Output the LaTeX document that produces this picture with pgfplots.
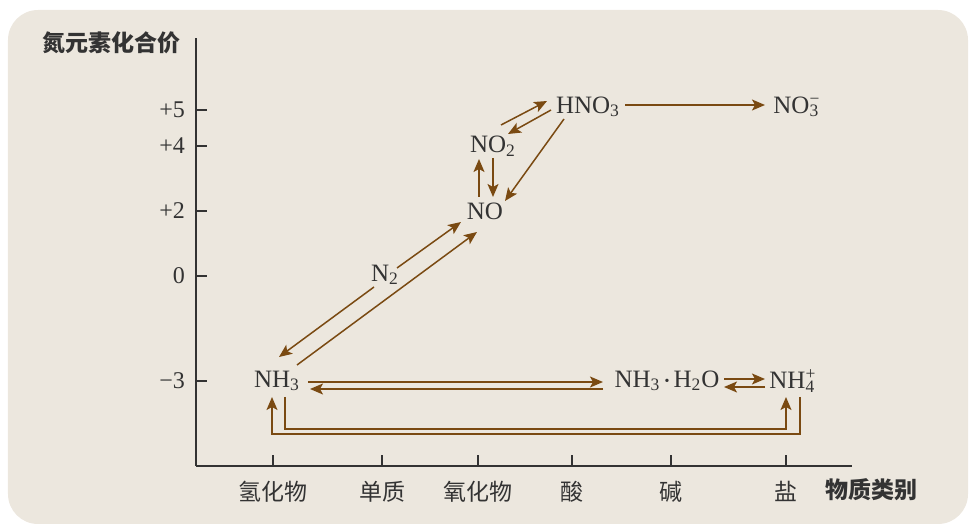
\documentclass[border=0pt]{standalone}
\usepackage{pgfplots}
\pgfplotsset{compat=1.18}
\usetikzlibrary{arrows.meta,backgrounds}
\usepackage{fontspec}
\setmainfont{Liberation Serif}
\newfontfamily\cjk{Noto Sans CJK SC}
\definecolor{bg}{HTML}{ECE7DE}
\definecolor{arr}{HTML}{7A4A12}
\definecolor{txt}{HTML}{333333}
\newcommand\ff{\fontsize{12.5}{14}\selectfont}
\newcommand\subsup[2]{\rlap{\textsuperscript{#2}}\textsubscript{#1}}
\begin{document}
\begin{tikzpicture}
\begin{axis}[
  x=0.5pt, y=0.5pt,
  xmin=196, xmax=852, ymin=58, ymax=486,
  axis lines=left,
  axis line style={-, line width=0.7pt, color=txt},
  clip=false,
  tick align=inside,
  major tick length=5.5pt,
  tick style={line width=0.6pt, color=txt},
  xtick={273,382,478,572,671,786},
  xticklabels={氢化物,单质,氧化物,酸,碱,盐},
  xticklabel style={font=\cjk\fontsize{11.5}{13}\selectfont, text=txt, yshift=-4pt},
  ytick={414,378,313,248,143},
  yticklabels={+5,+4,+2,0,−3},
  yticklabel style={font=\fontsize{12}{14}\selectfont, text=txt, xshift=-2pt},
  ar/.style={color=arr, solid, mark=none, line width=0.75pt, -{Stealth[length=6.5pt,width=5.5pt,inset=1.5pt]}},
]
\path (axis cs:0,0) coordinate (bb1) (axis cs:969,524) coordinate (bb2);
\coordinate (bgA) at (axis cs:8,514);
\coordinate (bgB) at (axis cs:968,0);
% arrows
\addplot[ar] coordinates {(501,399) (547,423)};
\addplot[ar] coordinates {(551,414) (508,390)};
\addplot[ar] coordinates {(479,327) (479,365)};
\addplot[ar] coordinates {(493,366) (493,327)};
\addplot[ar] coordinates {(564,405) (505,323)};
\addplot[ar] coordinates {(625,419) (765,419)};
\addplot[ar] coordinates {(397,256) (461,302)};
\addplot[ar] coordinates {(374,237) (279,167)};
\addplot[ar] coordinates {(297,159) (477,292)};
\addplot[ar] coordinates {(308,142) (603,142)};
\addplot[ar] coordinates {(603,135) (310,135)};
\addplot[ar] coordinates {(724,145) (765,145)};
\addplot[ar] coordinates {(765,137) (724,137)};
\addplot[ar] coordinates {(285,127) (285,95) (786,95) (786,127)};
\addplot[ar] coordinates {(800,127) (800,90) (272,90) (272,127)};
% labels
\begin{scope}[every node/.style={text=txt, font=\ff, inner sep=0pt}]
\node at (axis cs:588,417) {HNO\textsubscript{3}};
\node[anchor=west] at (axis cs:773,417) {NO\subsup{3}{−}};
\node at (axis cs:493,378) {NO\textsubscript{2}};
\node at (axis cs:485,313) {NO};
\node at (axis cs:385,249) {N\textsubscript{2}};
\node at (axis cs:277,143) {NH\textsubscript{3}};
\node at (axis cs:667,143) {NH\textsubscript{3}\,\raisebox{0.15ex}{\scriptsize•}\,H\textsubscript{2}O};
\node[anchor=west] at (axis cs:769,143) {NH\subsup{4}{+}};
\end{scope}
\node[text=txt, font=\cjk\bfseries\fontsize{11.5}{13}\selectfont] at (axis cs:112,481) {氮元素化合价};
\node[text=txt, font=\cjk\bfseries\fontsize{11.5}{13}\selectfont] at (axis cs:871,34) {物质类别};
\end{axis}
\path (bb1) rectangle (bb2);
\begin{scope}[on background layer]
\fill[bg, rounded corners=15pt] (bgA) rectangle (bgB);
\end{scope}
\end{tikzpicture}
\end{document}
